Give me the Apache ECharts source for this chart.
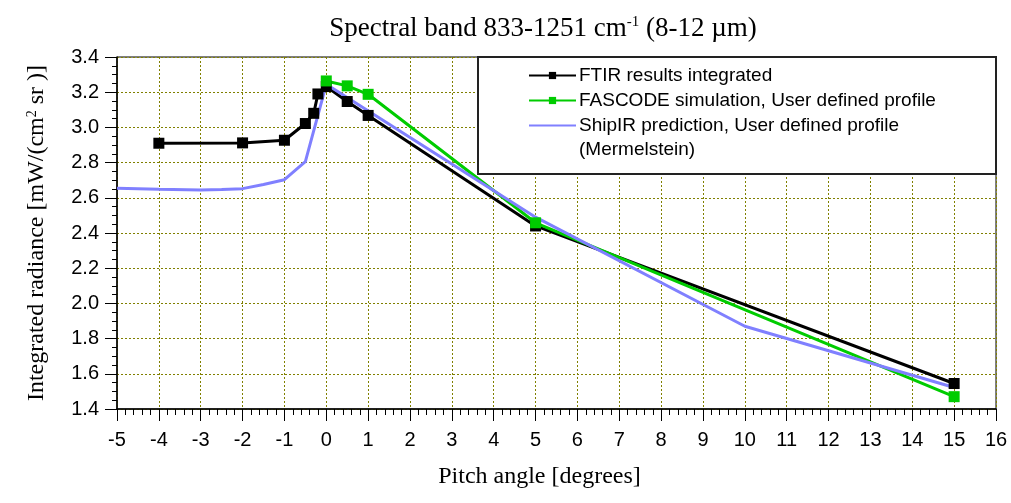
<!DOCTYPE html>
<html>
<head>
<meta charset="utf-8">
<script src="https://cdn.jsdelivr.net/npm/echarts/dist/echarts.min.js"></script>
<style>
html, body { margin: 0; padding: 0; background: #fff; }
#chart { width: 1011px; height: 503px; }
</style>
</head>
<body>
<div id="chart"></div>
<script>
// pitch angle [deg] / integrated radiance
var ftirX = [-4, -2, -1, -0.5, -0.3, -0.2, 0, 0.5, 1, 5, 15];
var ftirY = [2.91, 2.912, 2.927, 3.022, 3.08, 3.19, 3.232, 3.147, 3.068, 2.44, 1.545];

var fascodeX = [0, 0.5, 1, 5, 15];
var fascodeY = [3.264, 3.236, 3.188, 2.458, 1.47];

var shipirX = [-5, -4, -3, -2.5, -2, -1.5, -1, -0.5, 0, 5, 10, 15];
var shipirY = [2.654, 2.648, 2.645, 2.647, 2.652, 2.676, 2.703, 2.805, 3.245, 2.49, 1.87, 1.522];

var seriesNames = ['FTIR results integrated', 'FASCODE simulation, User defined profile', 'ShipIR prediction, User defined profile'];

function pairs(xs, ys) {
    var out = [];
    for (var i = 0; i < xs.length; i++) {
        out.push([xs[i], ys[i]]);
    }
    return out;
}

var sans = 'Liberation Sans, Arial, sans-serif';
var serif = 'Liberation Serif, Times New Roman, serif';
var gridColor = '#808000';

var chart = echarts.init(document.getElementById('chart'));

var option = {
    animation: false,
    backgroundColor: '#fff',
    title: {
        text: '{a|Spectral band 833-1251 cm}{s|-1}{a| (8-12 µm)}',
        left: 538,
        top: 10,
        textAlign: 'center',
        textStyle: {
            fontWeight: 'normal',
            rich: {
                a: { fontFamily: serif, fontSize: 27, fontWeight: 'normal', color: '#000' },
                s: { fontFamily: serif, fontSize: 15, fontWeight: 'normal', color: '#000', verticalAlign: 'top' }
            }
        }
    },
    grid: {
        left: 117,
        right: 15,
        top: 57,
        bottom: 94,
        show: true,
        borderColor: '#000',
        borderWidth: 1
    },
    legend: {
        orient: 'vertical',
        left: 528,
        top: 66,
        padding: 0,
        itemGap: 6,
        itemWidth: 47,
        itemHeight: 9,
        data: [
            { name: seriesNames[0] },
            { name: seriesNames[1] },
            { name: seriesNames[2], itemStyle: { color: 'rgba(0,0,0,0)', borderColor: 'rgba(0,0,0,0)', borderWidth: 0 } }
        ],
        textStyle: { fontFamily: sans, fontSize: 19, color: '#000', padding: [0, 0, 0, -2] }
    },
    graphic: [{
        type: 'rect',
        z: 3,
        shape: { x: 478, y: 57, width: 518, height: 117 },
        style: { fill: '#fff', stroke: '#222', lineWidth: 2 }
    }, {
        type: 'text',
        z: 5,
        left: 579,
        top: 140,
        style: { text: '(Mermelstein)', font: '19px ' + sans, fill: '#000' }
    }],
    xAxis: {
        type: 'value',
        min: -5,
        max: 16,
        interval: 1,
        name: 'Pitch angle [degrees]',
        nameLocation: 'middle',
        nameGap: 56,
        nameTextStyle: { fontFamily: serif, fontSize: 24, color: '#000', padding: [0, 34, 0, 0] },
        axisLine: { onZero: false, lineStyle: { color: '#000', width: 1.5 } },
        axisTick: { length: 12, lineStyle: { color: '#000' } },
        minorTick: { show: true, splitNumber: 5, length: 6, lineStyle: { color: '#000' } },
        axisLabel: { fontFamily: sans, fontSize: 20, color: '#000', margin: 21 },
        splitLine: { show: true, lineStyle: { color: gridColor, type: [2, 2], width: 1 } }
    },
    yAxis: {
        type: 'value',
        min: 1.4,
        max: 3.4,
        interval: 0.2,
        name: '{a|Integrated radiance [mW/(cm}{s|2}{a| sr )]}',
        nameLocation: 'middle',
        nameGap: 68,
        nameTextStyle: {
            rich: {
                a: { fontFamily: serif, fontSize: 24, color: '#000' },
                s: { fontFamily: serif, fontSize: 14, color: '#000', verticalAlign: 'top' }
            }
        },
        axisLine: { onZero: false, lineStyle: { color: '#000', width: 1.5 } },
        axisTick: { length: 12, lineStyle: { color: '#000' } },
        minorTick: { show: true, splitNumber: 4, length: 5, lineStyle: { color: '#000' } },
        axisLabel: {
            fontFamily: sans, fontSize: 20, color: '#000', margin: 18,
            formatter: function (v) { return v.toFixed(1); }
        },
        splitLine: { show: true, lineStyle: { color: gridColor, type: [2, 2], width: 1 } }
    },
    series: [{
        name: seriesNames[0],
        type: 'line',
        data: pairs(ftirX, ftirY),
        symbol: 'rect',
        symbolSize: 11,
        color: '#000',
        lineStyle: { color: '#000', width: 3 },
        itemStyle: { color: '#000' },
        z: 2
    }, {
        name: seriesNames[1],
        type: 'line',
        data: pairs(fascodeX, fascodeY),
        symbol: 'rect',
        symbolSize: 11,
        color: '#00cc00',
        lineStyle: { color: '#00cc00', width: 3 },
        itemStyle: { color: '#00cc00' },
        z: 2
    }, {
        name: seriesNames[2],
        type: 'line',
        data: pairs(shipirX, shipirY),
        symbol: 'none',
        color: '#8080ff',
        lineStyle: { color: '#8080ff', width: 3 },
        z: 2
    }]
};

chart.setOption(option);
</script>
</body>
</html>
